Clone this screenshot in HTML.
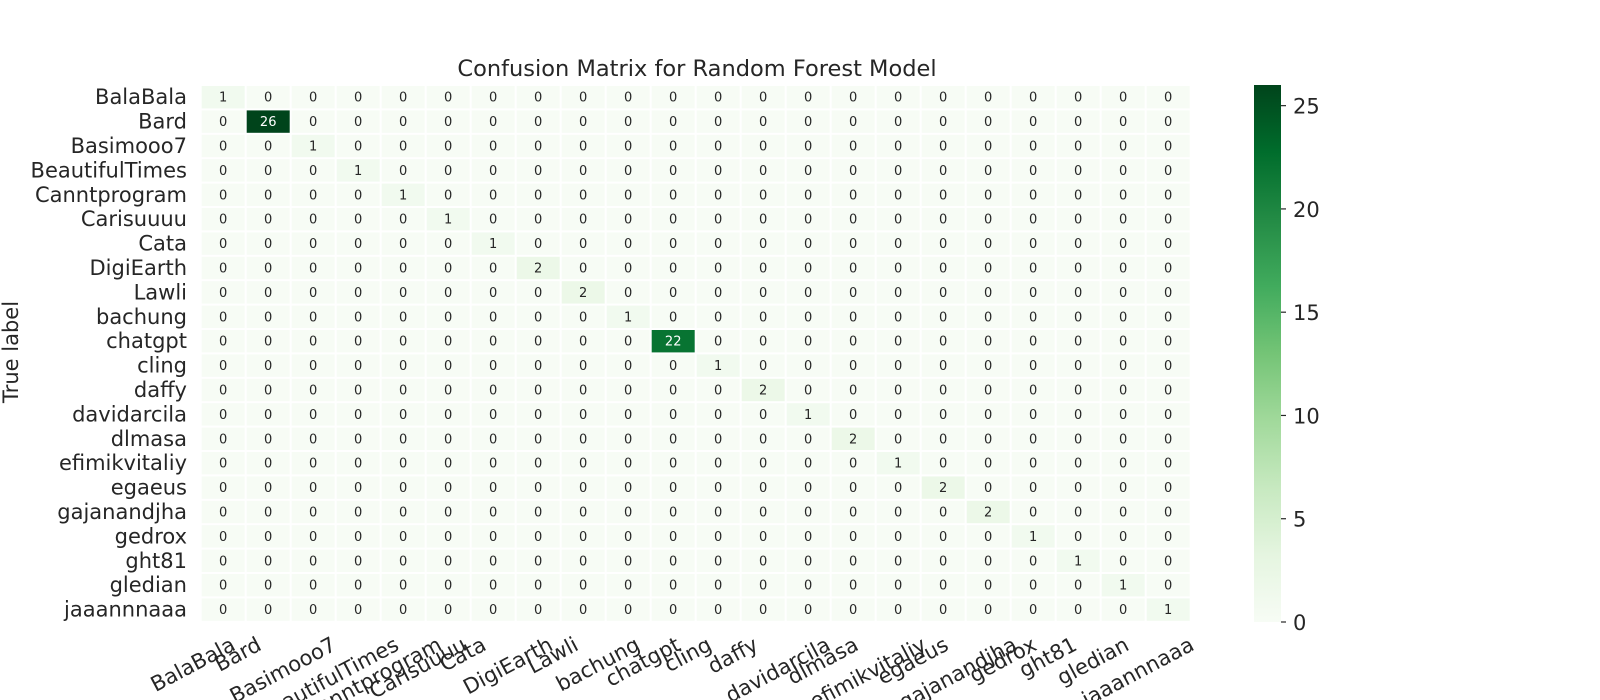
<!DOCTYPE html>
<html><head><meta charset="utf-8"><style>
body{margin:0;background:#fff;font-family:"DejaVu Sans","Liberation Sans",sans-serif}
svg{display:block}
</style></head><body>
<svg id="chart" width="1600" height="700"></svg>
<script>
const labels=["BalaBala","Bard","Basimooo7","BeautifulTimes","Canntprogram","Carisuuuu","Cata","DigiEarth","Lawli","bachung","chatgpt","cling","daffy","davidarcila","dlmasa","efimikvitaliy","egaeus","gajanandjha","gedrox","ght81","gledian","jaaannnaaa"];
const diagValues=[1,26,1,1,1,1,1,2,2,1,22,1,2,1,2,1,2,2,1,1,1,1];
const cbTicks=[0,5,10,15,20,25];
const vmax=26;
const NS="http://www.w3.org/2000/svg";
const svg=document.getElementById('chart');
function mk(t,a,p){const e=document.createElementNS(NS,t);for(const k in a)e.setAttribute(k,a[k]);(p||svg).appendChild(e);return e;}
const X0=200.7,Y0=85,CW=45,CH=24.4,n=labels.length;
const xs=i=>X0+i*CW, ys=i=>Y0+i*CH;
const stops=["#f7fcf5","#e5f5e0","#c7e9c0","#a1d99b","#74c476","#41ab5d","#238b45","#006d2c","#00441b"];
function hex(h){return [1,3,5].map(i=>parseInt(h.substr(i,2),16));}
function cmap(v){let t=Math.max(0,Math.min(1,v/vmax))*8;let i=Math.min(7,Math.floor(t));let f=t-i;const a=hex(stops[i]),b=hex(stops[i+1]);return `rgb(${a.map((c,k)=>Math.round(c+(b[k]-c)*f)).join(',')})`;}
let t=mk('text',{x:697,y:76,'text-anchor':'middle','font-size':'22.5','fill':'#262626'});t.textContent='Confusion Matrix for Random Forest Model';


for(let r=0;r<n;r++)for(let c=0;c<n;c++){
 const v=(r===c)?diagValues[r]:0;
 const rc=mk('rect',{x:xs(c)+1,y:ys(r)+1,width:CW-2,height:CH-2,fill:cmap(v)});
 
 
 const tx=mk('text',{x:xs(c)+CW/2,y:ys(r)+CH/2+4.5,'text-anchor':'middle','font-size':'13',fill:v>vmax*0.45?'#fff':'#262626'});
 tx.textContent=v;
 
 
}
const TH=28*Math.PI/180;
labels.forEach((l,i)=>{
 const a=mk('text',{x:187,y:ys(i)+CH/2+7,'text-anchor':'end','font-size':'21',fill:'#262626'});a.textContent=l;
 
 
 const cx=xs(i)+CW/2;
 const b=mk('text',{x:0,y:0,'text-anchor':'middle','font-size':'21',fill:'#262626'});b.textContent=l;
 
 
 const w=b.getComputedTextLength();
 const px=cx-27, py=635+(w/2)*Math.sin(TH)+16*Math.cos(TH);
 b.setAttribute('x',px);b.setAttribute('y',py);
 b.setAttribute('transform',`rotate(-28 ${px} ${py})`);
});
const yl=mk('text',{x:18,y:352,'text-anchor':'middle','font-size':'21',fill:'#262626',transform:'rotate(-90 18 352)'});yl.textContent='True label';


const CBX=1254,CBW=27,CBT=85,CBB=622;
const cy2=v=>CBB-(v/vmax)*(CBB-CBT);
const defs=mk('defs',{});const g=mk('linearGradient',{id:'gr',x1:0,y1:1,x2:0,y2:0},defs);
stops.forEach((s,i)=>mk('stop',{offset:(i/8),'stop-color':s},g));
const cb=mk('rect',{x:CBX,y:CBT,width:CBW,height:CBB-CBT,fill:'url(#gr)'});


cbTicks.forEach(v=>{
 mk('line',{x1:CBX+CBW,x2:CBX+CBW+5,y1:cy2(v),y2:cy2(v),stroke:'#262626','stroke-width':1.2});
 const tt=mk('text',{x:CBX+CBW+12,y:cy2(v)+8,'font-size':'21',fill:'#262626'});tt.textContent=v;
 
 
});
</script>
</body></html>
